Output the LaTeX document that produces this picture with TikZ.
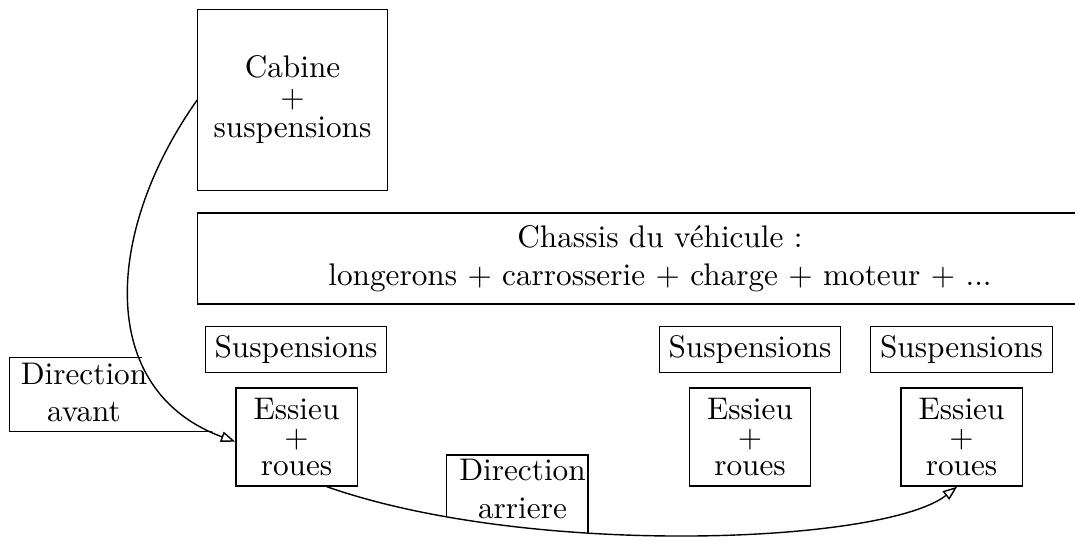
\documentclass[tikz,border=0pt]{standalone}
\usepackage{fontspec}
\usetikzlibrary{arrows.meta}
\begin{document}
\begin{tikzpicture}[x=0.32pt,y=-0.32pt,
  box/.style={draw, inner sep=0pt, align=center},
  suspbox/.style={box, minimum width=58.1pt, minimum height=14.5pt},
  essbox/.style={box, minimum width=38.8pt, minimum height=31.4pt, font=\fontsize{10}{8.96}\selectfont},
  lbl/.style={inner sep=0pt, align=center, font=\fontsize{10}{11.9}\selectfont},
  conn/.style={line width=0.45pt, -{Triangle[open,length=4.6pt,width=3.4pt]}},
]
\useasboundingbox (0,0) rectangle (1075,541);
\clip (0,0) rectangle (1075,541);

\node[box, minimum width=60.6pt, minimum height=58pt, font=\fontsize{10}{9.6}\selectfont] (cab) at (292.5,100) {Cabine\\+\\suspensions};
\node[box, minimum width=296pt, minimum height=29.1pt, font=\fontsize{10}{12.2}\selectfont] (chassis) at (660,258.5) {Chassis du véhicule :\\longerons + carrosserie + charge + moteur + ...};

\node[suspbox] (s1) at (296,349.5) {Suspensions};
\node[suspbox] (s2) at (750,349.5) {Suspensions};
\node[suspbox] (s3) at (961.5,349.5) {Suspensions};

\node[essbox] (e1) at (296.5,437) {Essieu\\+\\roues};
\node[essbox] (e2) at (750,437) {Essieu\\+\\roues};
\node[essbox] (e3) at (961.5,437) {Essieu\\+\\roues};

\node[lbl] (davant) at (84,392.7) {Direction\\avant};
\node[lbl] (darr) at (522.5,489) {Direction\\arriere};

\draw[conn] (cab.west) .. controls (105,230) and (95,390) .. ([yshift=-1.5pt]e1.west);
\draw[conn] ([xshift=9.7pt]e1.south) .. controls (530,558) and (884,544) .. ([xshift=-1.4pt]e3.south);

\begin{scope}
\clip (cab.west) .. controls (105,230) and (95,390) .. ([yshift=-1.5pt]e1.west) -- (236,541) -- (0,541) -- (0,0) -- (198,0) -- cycle;
\draw (9.3,357.7) rectangle (300,431.7);
\end{scope}
\begin{scope}
\clip ([xshift=9.7pt]e1.south) .. controls (530,558) and (884,544) .. ([xshift=-1.4pt]e3.south) -- (957,0) -- (327,0) -- cycle;
\draw (446.7,455) rectangle (588,560);
\end{scope}
\end{tikzpicture}
\end{document}
